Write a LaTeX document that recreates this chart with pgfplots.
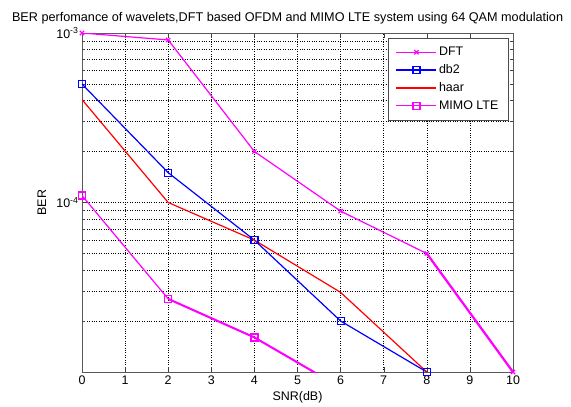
\documentclass[border=0pt]{standalone}
\usepackage{pgfplots}
\pgfplotsset{compat=1.18}
\usepackage{fontspec}
\setmainfont{Liberation Sans}
\definecolor{mag}{rgb}{1,0,1}
\begin{document}
\begin{tikzpicture}
\begin{axis}[
  name=ax, at={(0,0)}, anchor=south west,
  scale only axis, width=431bp, height=339bp,
  xmin=0, xmax=10, ymode=log, ymin=1e-5, ymax=1e-3,
  xtick={0,1,...,10},
  ytick={1e-5,1e-4,1e-3},
  yticklabels={,10\textsuperscript{-4},10\textsuperscript{-3}},
  xticklabel style={/pgf/number format/assume math mode=true},
  font=\fontsize{12.5}{14}\selectfont,
  tick label style={font=\fontsize{12.5}{14}\selectfont},
  tick align=inside, major tick length=5bp, minor tick length=3bp,
  every tick/.style={black!75},
  axis line style={black!65, line width=0.8bp},
  grid=both,
  major grid style={black, dotted, line width=0.5bp},
  minor grid style={black, dotted, line width=0.5bp},
  xlabel={SNR(dB)}, ylabel={BER},
  every axis x label/.style={at={(axis description cs:0.5,-0.074)}, anchor=center},
  every axis y label/.style={at={(axis description cs:-0.093,0.5)}, anchor=center, rotate=90},
  title={BER perfomance of wavelets,DFT based OFDM and MIMO LTE system using 64 QAM modulation},
  every axis title/.style={at={(axis description cs:0.477,1.043)}, anchor=center, font=\fontsize{12.7}{15}\selectfont},
  legend style={at={(axis description cs:1,1)}, anchor=north east, xshift=-5bp, yshift=-5bp,
    draw=black!70, fill=white, font=\fontsize{12.5}{14}\selectfont, inner xsep=7.5bp, inner ysep=7bp, row sep=3.5bp},
  legend cell align=left,
  legend image code/.code={\draw[mark repeat=2,mark phase=2] plot coordinates {(0bp,0bp) (20bp,0bp) (40bp,0bp)};},
]
\addplot[mag, line width=1.2bp, mark=x, mark size=3bp, mark options={solid, line width=1.2bp}]
 coordinates {(0,1e-3) (2,9.1e-4) (4,2e-4) (6,8.9e-5) (8,5e-5) (10,1e-5)};
\addlegendentry{DFT}
\addplot[blue, line width=1.2bp, mark=square, mark size=3.5bp, mark options={solid, line width=1.2bp}]
 coordinates {(0,5e-4) (2,1.5e-4) (4,6e-5) (6,2e-5) (8,1e-5)};
\addlegendentry{db2}
\addplot[red, line width=1.2bp]
 coordinates {(0,4.05e-4) (2,1e-4) (4,6e-5) (6,2.95e-5) (8,1e-5)};
\addlegendentry{haar}
\addplot[mag, line width=1.2bp, mark=square, mark size=3.5bp, mark options={solid, line width=1.2bp}]
 coordinates {(0,1.1e-4) (2,2.7e-5) (4,1.6e-5) (6,8.1e-6)};
\addlegendentry{MIMO LTE}
\addplot[mag, line width=2.2bp, forget plot] coordinates {(8,5e-5) (10,1e-5)};
\addplot[mag, line width=2bp, forget plot] coordinates {(2,2.7e-5) (4,1.6e-5) (6,8.1e-6)};
\end{axis}
\pgfresetboundingbox
\path[use as bounding box] (-82bp,-35bp) rectangle (489bp,372bp);
\end{tikzpicture}
\end{document}
